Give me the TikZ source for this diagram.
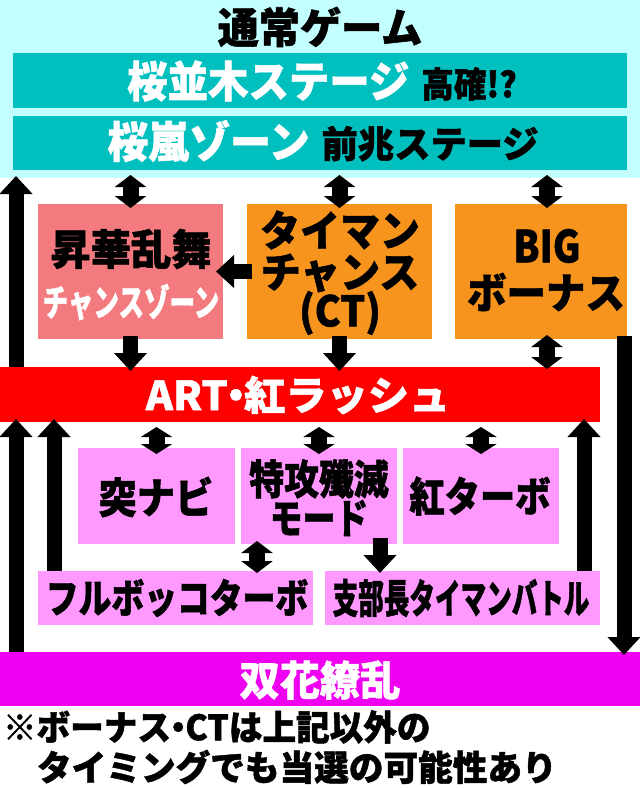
\documentclass[tikz,border=0pt]{standalone}
\usepackage{fontspec}
\usepackage{graphicx}
\usetikzlibrary{arrows.meta}
\newfontfamily\jp{Noto Sans CJK JP}[BoldFeatures={FakeBold=1.3}]
\definecolor{cyanbg}{HTML}{C4FFFF}
\definecolor{tealc}{HTML}{00BFBF}
\definecolor{salmon}{HTML}{F37A7E}
\definecolor{orangec}{HTML}{F7941D}
\definecolor{redc}{HTML}{FF0000}
\definecolor{violetc}{HTML}{FF99FF}
\definecolor{magentac}{HTML}{F000F0}
\newcommand\fs[1]{\fontsize{#1}{#1}\selectfont}
\newcommand\sx[2]{\scalebox{#1}[1]{#2}}
\begin{document}
\begin{tikzpicture}[x=1pt,y=-1pt,
  box/.style={inner sep=0pt, outer sep=0pt, anchor=center, draw=none},
  txt/.style={font=\jp\bfseries, inner sep=0pt, outer sep=0pt, anchor=center},
  one/.style={line width=15pt, -{Triangle[width=32pt,length=18pt]}},
  two/.style={line width=16pt, {Triangle[width=31pt,length=12pt]}-{Triangle[width=31pt,length=12pt]}},
  twos/.style={line width=16pt, {Triangle[width=31pt,length=10pt]}-{Triangle[width=31pt,length=10pt]}},
]
\useasboundingbox (0,0) rectangle (640,788);
\fill[white] (0,0) rectangle (640,788);
\fill[cyanbg] (0,0) rectangle (640,178);

% boxes
\node[box, fill=tealc, minimum width=614pt, minimum height=55pt] (s1) at (320,80.5) {};
\node[box, fill=tealc, minimum width=614pt, minimum height=54pt] (s2) at (320,143) {};
\node[box, fill=salmon, minimum width=185pt, minimum height=135pt] (shoka) at (130.5,271.5) {};
\node[box, fill=orangec, minimum width=185pt, minimum height=135pt] (ct) at (339.5,271.5) {};
\node[box, fill=orangec, minimum width=172pt, minimum height=135pt] (big) at (541,271.5) {};
\node[box, fill=redc, minimum width=600pt, minimum height=55pt] (art) at (300,394.5) {};
\node[box, fill=violetc, minimum width=157pt, minimum height=96pt] (totsu) at (156.5,496) {};
\node[box, fill=violetc, minimum width=156pt, minimum height=96pt] (tokko) at (319,496) {};
\node[box, fill=violetc, minimum width=156pt, minimum height=96pt] (kturbo) at (481,496) {};
\node[box, fill=violetc, minimum width=275pt, minimum height=54pt] (full) at (175.5,598) {};
\node[box, fill=violetc, minimum width=275pt, minimum height=54pt] (shibu) at (462.5,598) {};
\node[box, fill=magentac, minimum width=640pt, minimum height=54pt] (sohka) at (320,679) {};

% texts
\node[txt] (ttitle) at (320,27) {\sx{0.98}{\fs{42}通常ゲーム}};
\node[txt] (ts1) at (322,81) {\sx{0.94}{\fs{43}\color{white}桜並木ステージ}\hspace{12pt}\sx{0.93}{\fs{35}高確!?}};
\node[txt] (ts2) at (323,141) {\sx{0.95}{\fs{43}\color{white}桜嵐ゾーン}\hspace{12pt}\sx{0.98}{\fs{37}前兆ステージ}};
\node[txt] (tshoka1) at (131,249) {\sx{0.96}{\fs{42}昇華乱舞}};
\node[txt, text=white] (tshoka2) at (131,302) {\sx{0.69}{\fs{37}チャンスゾーン}};
\node[txt] (tct1) at (340,230) {\sx{0.95}{\fs{42}タイマン}};
\node[txt] (tct2) at (340,273) {\sx{0.95}{\fs{42}チャンス}};
\node[txt] (tct3) at (340,313) {\sx{0.93}{\fs{42}(CT)}};
\node[txt] (tbig1) at (547,246) {\sx{0.86}{\fs{44}BIG}};
\node[txt] (tbig2) at (546,292) {\sx{0.94}{\fs{42}ボーナス}};
\node[txt, text=white] (tart) at (298,395) {\sx{1.03}{\fs{40}ART\hspace{-12pt}・\hspace{-12pt}紅ラッシュ}};
\node[txt] (ttotsu) at (156,497) {\sx{0.91}{\fs{42}突ナビ}};
\node[txt] (ttokko1) at (319,479) {\sx{0.85}{\fs{41}特攻殲滅}};
\node[txt] (ttokko2) at (319,518) {\sx{0.8}{\fs{41}モード}};
\node[txt] (tkturbo) at (480,496) {\sx{0.86}{\fs{41}紅ターボ}};
\node[txt] (tfull) at (177,598) {\sx{0.82}{\fs{40}フルボッコターボ}};
\node[txt] (tshibu) at (461,598) {\sx{0.64}{\fs{40}支部長タイマンバトル}};
\node[txt, text=white] (tsohka) at (320,680) {\sx{0.98}{\fs{41}双花繚乱}};
\node[txt, anchor=west] (tnote1) at (3,727) {\sx{0.96}{\fs{35}※ボーナス\hspace{-10pt}・\hspace{-10pt}CTは上記以外の}};
\node[txt, anchor=west] (tnote2) at (37,767) {\sx{0.99}{\fs{35}タイミングでも当選の可能性あり}};

% connectors
\draw[one] ([xshift=16pt]art.north west) -- ([xshift=16pt]art.north west |- s2.south) [shorten >=6pt];
\draw[one, shorten >=-3pt] ([xshift=16pt]sohka.north west) -- ([xshift=16pt]art.south west);
\draw[one, shorten >=-3pt] ([xshift=16pt]full.north west) -- ([xshift=16pt]full.north west |- art.south);
\draw[one, shorten >=-3pt] ([xshift=-16pt]shibu.north east) -- ([xshift=-16pt]shibu.north east |- art.south);
\draw[one, shorten <=-3pt, shorten >=-3pt] ([xshift=-16pt]sohka.north east |- big.south) -- ([xshift=-16pt]sohka.north east);
\draw[one, shorten <=-5pt, shorten >=-7pt] (ct.west) -- (shoka.east);
\draw[one, shorten <=-3pt, shorten >=-4pt] (shoka.south) -- (shoka.south |- art.north);
\draw[one, shorten <=-3pt, shorten >=-4pt] (ct.south) -- (ct.south |- art.north);
\draw[two, shorten <=5pt, shorten >=-4pt] (shoka.north |- s2.south) -- (shoka.north);
\draw[two, shorten <=5pt, shorten >=-4pt] (ct.north |- s2.south) -- (ct.north);
\draw[two, shorten <=5pt, shorten >=-4pt] ([xshift=6pt]big.north |- s2.south) -- ([xshift=6pt]big.north);
\draw[two, shorten <=-4pt, shorten >=-2pt] ([xshift=6pt]big.south) -- ([xshift=6pt]big.south |- art.north);
\draw[twos, shorten <=5pt, shorten >=-6pt] (totsu.north |- art.south) -- (totsu.north);
\draw[twos, shorten <=5pt, shorten >=-6pt] (tokko.north |- art.south) -- (tokko.north);
\draw[twos, shorten <=5pt, shorten >=-6pt] (kturbo.north |- art.south) -- (kturbo.north);
\draw[two, shorten <=-3pt, shorten >=-2pt] ([xshift=16pt]tokko.south west) -- ([xshift=16pt]tokko.south west |- full.north);
\draw[one, shorten <=-6pt, shorten >=-2pt] ([xshift=-17pt]tokko.south east) -- ([xshift=-17pt]tokko.south east |- shibu.north);
\end{tikzpicture}
\end{document}
